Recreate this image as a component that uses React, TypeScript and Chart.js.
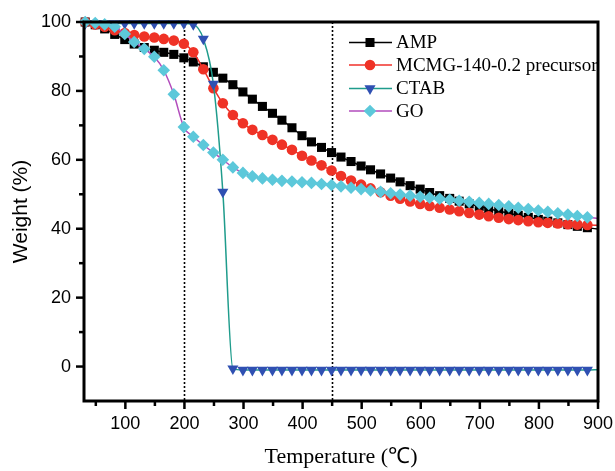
import { useEffect, useRef } from "react";
import { Chart, registerables } from "chart.js";

Chart.register(...registerables);

const temperatures = [32, 49, 65, 82, 99, 115, 132, 149, 165, 182, 199, 215, 232, 249, 265, 282, 299, 315, 332, 349, 365, 382, 399, 415, 432, 449, 465, 482, 499, 515, 532, 549, 565, 582, 599, 615, 632, 649, 665, 682, 699, 715, 732, 749, 765, 782, 799, 815, 832, 849, 865, 882, 900];

const ampWeight = [
  100, 99.2, 98, 96.4, 94.9,
  93.6, 92.6, 91.8, 91.2, 90.6,
  89.6, 88.4, 87, 85.4, 83.7,
  81.8, 79.7, 77.6, 75.5, 73.5,
  71.5, 69.3, 67.0, 65.2, 63.6,
  62.1, 60.8, 59.5, 58.2, 57.1,
  55.9, 54.7, 53.6, 52.5, 51.5,
  50.5, 49.6, 48.8, 48.0, 47.2,
  46.5, 45.8, 45.1, 44.5, 43.9,
  43.3, 42.7, 42.2, 41.7, 41.2,
  40.7, 40.3, 39.9,
];

const mcmgWeight = [
  100, 99.3, 98.6, 97.6, 96.8,
  96.2, 95.8, 95.5, 95.1, 94.6,
  93.7, 91.2, 86.3, 80.8, 76.4,
  73.0, 70.6, 68.7, 67.2, 65.8,
  64.4, 62.9, 61.2, 59.8, 58.4,
  56.9, 55.3, 54.0, 52.8, 51.7,
  50.6, 49.6, 48.7, 47.9, 47.2,
  46.6, 46.1, 45.6, 45.1, 44.6,
  44.1, 43.6, 43.2, 42.8, 42.5,
  42.2, 41.9, 41.7, 41.5, 41.3,
  41.2, 41.1, 41.0,
];

const ctabWeight = [
  99.6, 99.6, 99.6, 99.6, 99.6,
  99.6, 99.6, 99.6, 99.6, 99.6,
  99.6, 99.3, 95.1, 82.0, 50.7,
  -0.6, -1, -1, -1, -1,
  -1, -1, -1, -1, -1,
  -1, -1, -1, -1, -1,
  -1, -1, -1, -1, -1,
  -1, -1, -1, -1, -1,
  -1, -1, -1, -1, -1,
  -1, -1, -1, -1, -1,
  -1, -1, -0.9,
];

const goWeight = [
  100, 99.7, 99.3, 98.6, 96.5,
  94.2, 92.2, 89.9, 86.0, 79.0,
  69.5, 66.7, 64.3, 62.1, 60.0,
  57.8, 56.2, 55.2, 54.6, 54.2,
  53.9, 53.7, 53.5, 53.3, 53.0,
  52.7, 52.3, 51.9, 51.5, 51.1,
  50.7, 50.3, 49.9, 49.6, 49.3,
  49.0, 48.7, 48.4, 48.1, 47.8,
  47.5, 47.2, 46.9, 46.5, 46.1,
  45.7, 45.3, 44.9, 44.5, 44.1,
  43.7, 43.3, 43.0,
];

const seriesLabels = ["AMP", "MCMG-140-0.2 precursor", "CTAB", "GO"];
const xTickValues = [100, 200, 300, 400, 500, 600, 700, 800, 900];
const xMinorValues = [50, 150, 250, 350, 450, 550, 650, 750, 850];
const yTickValues = [0, 20, 40, 60, 80, 100];
const yMinorValues = [10, 30, 50, 70, 90];
const guideTemperatures = [200, 450];

type Style = {
  line: string;
  fill: string;
  shape: "rect" | "circle" | "triangle" | "rectRot";
  radius: number;
  rotation: number;
};

const styles: Style[] = [
  { line: "#000000", fill: "#000000", shape: "rect", radius: 6.4, rotation: 0 },
  { line: "#f0302a", fill: "#ef3226", shape: "circle", radius: 5.3, rotation: 0 },
  { line: "#1f9c8c", fill: "#2f50b2", shape: "triangle", radius: 6.4, rotation: 180 },
  { line: "#b24cbc", fill: "#5cc8da", shape: "rectRot", radius: 6.3, rotation: 0 },
];

function drawMarker(ctx: CanvasRenderingContext2D, s: Style, x: number, y: number) {
  const r = s.radius;
  ctx.beginPath();
  if (s.shape === "rect") {
    const h = r * Math.SQRT1_2;
    ctx.rect(x - h, y - h, 2 * h, 2 * h);
  } else if (s.shape === "circle") {
    ctx.arc(x, y, r, 0, Math.PI * 2);
  } else if (s.shape === "triangle") {
    let a = (s.rotation * Math.PI) / 180;
    ctx.moveTo(x + Math.sin(a) * r, y - Math.cos(a) * r);
    a += (2 * Math.PI) / 3;
    ctx.lineTo(x + Math.sin(a) * r, y - Math.cos(a) * r);
    a += (2 * Math.PI) / 3;
    ctx.lineTo(x + Math.sin(a) * r, y - Math.cos(a) * r);
    ctx.closePath();
  } else {
    ctx.moveTo(x - r, y);
    ctx.lineTo(x, y - r);
    ctx.lineTo(x + r, y);
    ctx.lineTo(x, y + r);
    ctx.closePath();
  }
  ctx.fillStyle = s.fill;
  ctx.fill();
}

const decorPlugin = {
  id: "decor",
  beforeDatasetsDraw(chart: any) {
    const { ctx, chartArea, scales } = chart;
    ctx.save();
    ctx.setLineDash([2, 2]);
    ctx.lineWidth = 1.6;
    ctx.strokeStyle = "#000";
    for (const t of guideTemperatures) {
      const px = Math.round(scales.x.getPixelForValue(t)) + 0.5;
      ctx.beginPath();
      ctx.moveTo(px, chartArea.top);
      ctx.lineTo(px, chartArea.bottom);
      ctx.stroke();
    }
    ctx.restore();
  },
  afterDatasetsDraw(chart: any) {
    const { ctx, chartArea, scales } = chart;
    const { left, right, top, bottom } = chartArea;
    ctx.save();
    ctx.strokeStyle = "#000";
    ctx.lineWidth = 2.5;
    const tick = (x1: number, y1: number, x2: number, y2: number) => {
      ctx.beginPath();
      ctx.moveTo(x1, y1);
      ctx.lineTo(x2, y2);
      ctx.stroke();
    };
    for (const v of xTickValues) {
      const px = scales.x.getPixelForValue(v);
      tick(px, bottom, px, bottom + 8);
    }
    for (const v of xMinorValues) {
      const px = scales.x.getPixelForValue(v);
      tick(px, bottom, px, bottom + 5);
    }
    for (const v of yTickValues) {
      const py = scales.y.getPixelForValue(v);
      tick(left, py, left - 8, py);
    }
    for (const v of yMinorValues) {
      const py = scales.y.getPixelForValue(v);
      tick(left, py, left - 5, py);
    }
    ctx.lineWidth = 3;
    ctx.strokeRect(left, top, right - left, bottom - top);

    // legend
    const lx = right - 249;
    const rows = [42.5, 65, 88.5, 111];
    ctx.font = "19px 'Liberation Serif', 'Times New Roman', serif";
    ctx.textBaseline = "middle";
    ctx.textAlign = "left";
    seriesLabels.forEach((label, i) => {
      const s = styles[i];
      const y = rows[i];
      ctx.lineWidth = 1.5;
      ctx.strokeStyle = s.line;
      ctx.beginPath();
      ctx.moveTo(lx, y);
      ctx.lineTo(lx + 43, y);
      ctx.stroke();
      drawMarker(ctx, s, lx + 21, y);
      ctx.fillStyle = "#000";
      ctx.fillText(label, lx + 47, y + 1);
    });

    // axis titles
    ctx.fillStyle = "#000";
    ctx.font = "21px 'Liberation Sans', Arial, sans-serif";
    ctx.save();
    ctx.translate(21, (top + bottom) / 2);
    ctx.rotate(-Math.PI / 2);
    ctx.textAlign = "center";
    ctx.textBaseline = "middle";
    ctx.fillText("Weight (%)", 0, 0);
    ctx.restore();

    ctx.font = "22px 'Liberation Serif', 'Times New Roman', serif";
    ctx.textAlign = "center";
    ctx.textBaseline = "alphabetic";
    ctx.fillText("Temperature (℃)", (left + right) / 2, 463);
    ctx.restore();
  },
};

const weights = [ampWeight, mcmgWeight, ctabWeight, goWeight];

export default function App() {
  const canvasRef = useRef<HTMLCanvasElement | null>(null);

  useEffect(() => {
    if (!canvasRef.current) return;
    const last = temperatures.length - 1;
    const datasets = seriesLabels.map((label, i) => {
      const s = styles[i];
      return {
        label,
        data: temperatures.map((t, j) => ({ x: t, y: weights[i][j] })),
        borderColor: s.line,
        backgroundColor: s.fill,
        borderWidth: 1.5,
        pointStyle: s.shape,
        pointRotation: s.rotation,
        pointBackgroundColor: s.fill,
        pointBorderColor: s.fill,
        pointBorderWidth: 0,
        pointRadius: (c: any) => (c.dataIndex === last ? 0 : s.radius),
        pointHoverRadius: (c: any) => (c.dataIndex === last ? 0 : s.radius),
        cubicInterpolationMode: "monotone" as const,
        clip: false as any,
        order: 4 - i,
      };
    });

    const tickFont = { family: "'Liberation Sans', Arial, sans-serif", size: 18 };

    const chart = new Chart(canvasRef.current, {
      type: "line",
      data: { datasets },
      plugins: [decorPlugin],
      options: {
        animation: false,
        responsive: true,
        maintainAspectRatio: false,
        events: [],
        layout: { padding: { top: 22, right: 17, left: 0, bottom: 0 } },
        plugins: { legend: { display: false }, tooltip: { enabled: false }, title: { display: false } },
        scales: {
          x: {
            type: "linear",
            min: 30,
            max: 900,
            grid: { display: false, drawTicks: false },
            border: { display: false },
            afterBuildTicks: (s: any) => {
              s.ticks = xTickValues.map((v) => ({ value: v }));
            },
            afterFit: (s: any) => {
              s.height = 70;
              s.paddingLeft = 0;
              s.paddingRight = 0;
            },
            ticks: { font: tickFont, color: "#000", padding: 12, maxRotation: 0, autoSkip: false },
          },
          y: {
            type: "linear",
            min: -10,
            max: 100,
            grid: { display: false, drawTicks: false },
            border: { display: false },
            afterBuildTicks: (s: any) => {
              s.ticks = yTickValues.map((v) => ({ value: v }));
            },
            afterFit: (s: any) => {
              s.width = 84;
              s.paddingTop = 0;
              s.paddingBottom = 0;
            },
            ticks: { font: tickFont, color: "#000", padding: 13, autoSkip: false },
          },
        },
      },
    });
    return () => chart.destroy();
  }, []);

  return (
    <div style={{ position: "absolute", left: 0, top: 0, width: 615, height: 471, background: "#fff" }}>
      <canvas ref={canvasRef} />
    </div>
  );
}
